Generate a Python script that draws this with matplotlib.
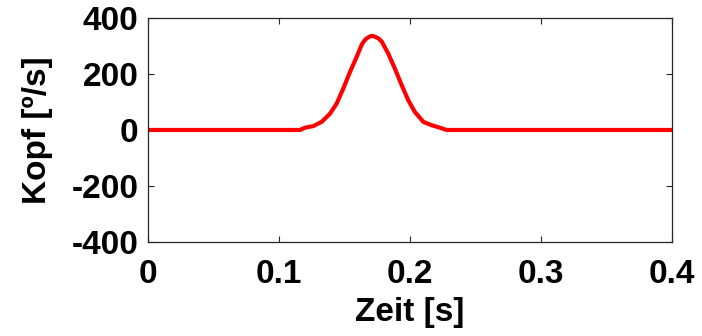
import matplotlib
matplotlib.use("Agg")
import matplotlib.pyplot as plt

# Kopfgeschwindigkeit über der Zeit
zeit = [0.0, 0.116, 0.1198, 0.1262, 0.1326, 0.1389, 0.1440, 0.1491, 0.1542,
        0.1593, 0.1631, 0.1650, 0.1669, 0.1690, 0.1707, 0.1720, 0.1733,
        0.1760, 0.1784, 0.1834, 0.1885, 0.1937, 0.1987, 0.2038, 0.2102,
        0.2166, 0.2229, 0.2280, 0.4]
kopf = [0, 0, 8, 14, 29, 58, 94, 148, 207,
        261, 304, 318, 327, 333, 336, 335, 333,
        327, 316, 273, 219, 160, 106, 64, 29,
        17, 8, 0, 0]

xticks = [0, 0.1, 0.2, 0.3, 0.4]
xticklabels = ["0", "0.1", "0.2", "0.3", "0.4"]
yticks = [-400, -200, 0, 200, 400]

plt.rcParams['font.family'] = ['Liberation Sans', 'DejaVu Sans']
plt.rcParams['font.weight'] = 'bold'
plt.rcParams['axes.unicode_minus'] = False

fig = plt.figure(figsize=(7.02, 3.36), dpi=100)
ax = fig.add_axes([0.2108, 0.2798, 0.7464, 0.6667])

ax.plot(zeit, kopf, color='#ff0000', linewidth=3, solid_joinstyle='round')

ax.set_xlim(0, 0.4)
ax.set_ylim(-400, 400)
ax.set_xticks(xticks)
ax.set_xticklabels(xticklabels)
ax.set_yticks(yticks)

ax.tick_params(direction='in', length=4, width=0.8, top=True, right=True,
               labelsize=24, colors='#262626', labelcolor='black')
ax.tick_params(axis='x', pad=12)
ax.tick_params(axis='y', pad=7)
for sp in ax.spines.values():
    sp.set_linewidth(0.9)
    sp.set_color('#262626')

ax.set_xlabel("Zeit [s]", fontsize=24, fontweight='bold', labelpad=5)
ax.set_ylabel("Kopf [º/s]", fontsize=24, fontweight='bold', labelpad=13)

fig.savefig("out.png", dpi=100)
